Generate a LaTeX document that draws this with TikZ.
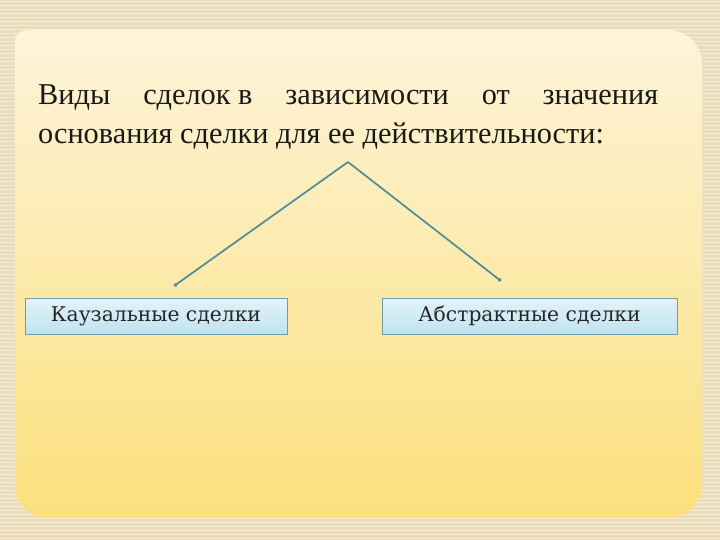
\documentclass[tikz,border=0pt]{standalone}
\usepackage{fontspec}
\setmainfont{Liberation Serif}
\newfontfamily\boxfont{DejaVu Serif}
\usetikzlibrary{arrows.meta}
\definecolor{frameC}{HTML}{EADCB8}
\definecolor{frameL}{HTML}{F6EEDA}
\definecolor{topC}{HTML}{FDF4DA}
\definecolor{botC}{HTML}{FCE07C}
\definecolor{lineC}{HTML}{4E8C98}
\definecolor{boxTop}{HTML}{E4F3F8}
\definecolor{boxBot}{HTML}{BEE3F1}
\definecolor{boxEdge}{HTML}{6A9EA8}
\tikzset{
  connector/.style={draw=lineC, line width=1.7pt, -{Circle[length=3.5pt]}},
  kindbox/.style={draw=boxEdge, line width=0.8pt, top color=boxTop, bottom color=boxBot,
    minimum height=36pt, inner sep=0pt, font=\boxfont\fontsize{20.3}{24}\selectfont, text=black!85},
  titletext/.style={anchor=west, inner sep=0pt, font=\fontsize{30.3}{36}\selectfont, text=black!90}
}
\begin{document}
\begin{tikzpicture}[x=1pt,y=-1pt]
\useasboundingbox (0,0) rectangle (720,540);
% patterned frame
\fill[frameC] (0,0) rectangle (720,540);
\foreach \yy in {2,6,...,540} {
  \draw[frameL, line width=1pt] (0,\yy) -- (720,\yy);
}
% inner panel
\shade[top color=topC, bottom color=botC]
  (15,40) [rounded corners=12pt] -- (15,30) [rounded corners=34pt] -- (702,30) -- (702,518) -- (15,518) [rounded corners=12pt] -- (15,40) -- cycle;
% title
\node[titletext] (title1) at (38,98) {\makebox[620pt][s]{Виды\hfill сделок в\hfill зависимости\hfill от\hfill значения}};
\node[titletext] (title2) at (38,136) {основания сделки для ее действительности:};
% boxes
\node[kindbox, minimum width=262pt] (causal) at (156,316) {Каузальные сделки};
\node[kindbox, minimum width=295pt] (abstract) at (529.5,316) {Абстрактные сделки};
% connectors
\coordinate (apex) at (348,162);
\coordinate (leftEnd) at (174,286);
\coordinate (rightEnd) at (501,281);
\draw[connector] (apex) -- (leftEnd);
\draw[connector] (apex) -- (rightEnd);
\end{tikzpicture}
\end{document}
